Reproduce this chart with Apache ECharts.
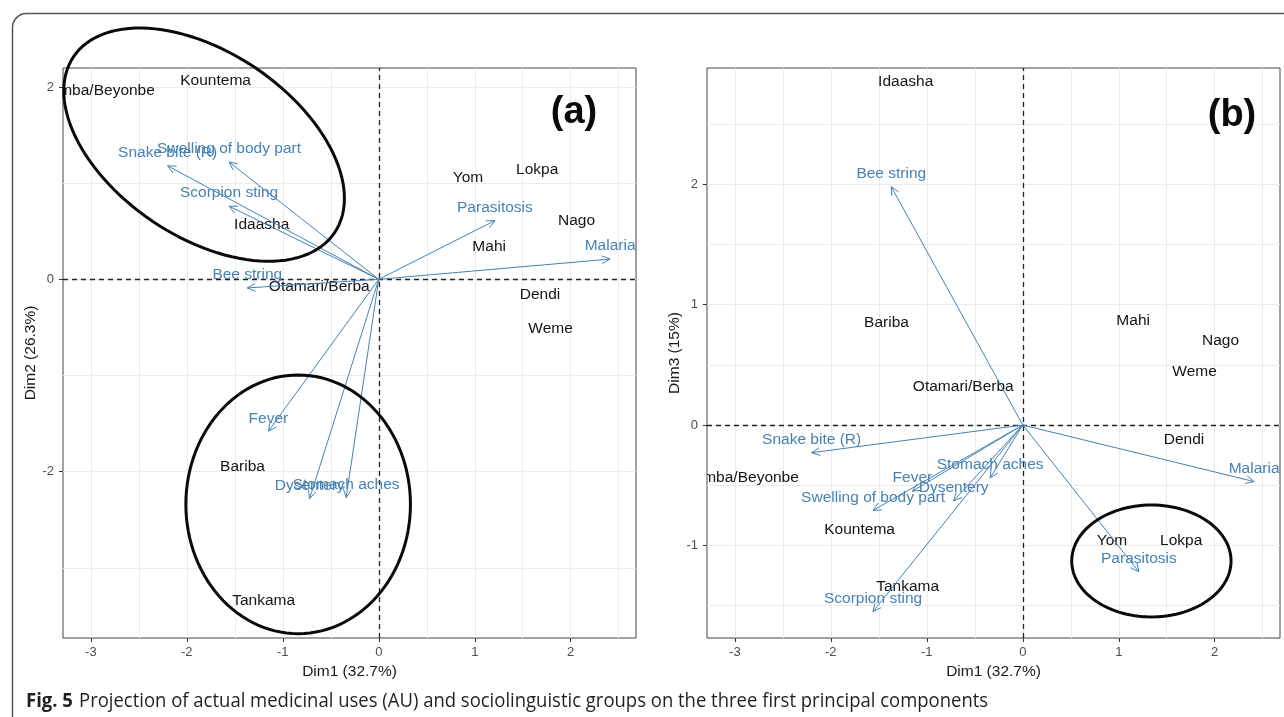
<!DOCTYPE html>
<html>
<head>
<meta charset="utf-8">
<script src="https://cdn.jsdelivr.net/npm/echarts@6/dist/echarts.min.js"></script>
<style>html,body{margin:0;padding:0;background:#fff}#c{width:1284px;height:717px}</style>
</head>
<body>
<div id="c"></div>
<script>
// ---- data ----
const groups = ['Somba/Beyonbe','Kountema','Idaasha','Otamari/Berba','Yom','Lokpa','Nago','Mahi','Dendi','Weme','Bariba','Tankama'];
const groupDim1 = [-2.93,-1.70,-1.22,-0.62,0.93,1.65,2.06,1.15,1.68,1.79,-1.42,-1.20];
const groupDim2 = [1.96,2.06,0.57,-0.08,1.06,1.14,0.61,0.34,-0.16,-0.51,-1.95,-3.34];
const groupDim3 = [-0.44,-0.87,2.85,0.32,-0.96,-0.96,0.70,0.87,-0.12,0.44,0.85,-1.34];

const uses = ['Snake bite (R)','Swelling of body part','Scorpion sting','Bee string','Parasitosis','Malaria','Fever','Dysentery','Stomach aches'];
const useDim1 = [-2.20,-1.56,-1.56,-1.37,1.21,2.41,-1.15,-0.72,-0.34];
const useDim2 = [1.18,1.22,0.76,-0.09,0.61,0.21,-1.58,-2.28,-2.27];
const useDim3 = [-0.23,-0.71,-1.55,1.98,-1.22,-0.47,-0.55,-0.63,-0.44];

// annotation ellipses: [centerX, centerY, radiusX, radiusY, rotationDeg]
const ellipsesA = [[-1.82, 1.40, 1.64, 0.96, 34], [-0.84, -2.34, 1.17, 1.345, 0]];
const ellipsesB = [[1.34, -1.13, 0.83, 0.465, 0]];

const xTickLabels = [-3, -2, -1, 0, 1, 2];
const xGrid = [-3, -2.5, -2, -1.5, -1, -0.5, 0, 0.5, 1, 1.5, 2, 2.5];
const yATickLabels = [-2, 0, 2];
const yAGrid = [-3, -2, -1, 0, 1, 2];
const yBTickLabels = [-1, 0, 1, 2];
const yBGrid = [-1.5, -1, -0.5, 0, 0.5, 1, 1.5, 2, 2.5];

const dimNames = ['Dim1 (32.7%)', 'Dim2 (26.3%)', 'Dim3 (15%)'];

// ---- styles ----
const FONT = 'Liberation Sans, Arial, sans-serif';
const BLUE = '#4682B4';
const INK = '#141414';
const XR = [-3.29, 2.68];
const YA = [-3.73, 2.197];
const YB = [-1.77, 2.967];

const chart = echarts.init(document.getElementById('c'), null, {renderer: 'canvas'});

function mainX(grid) {
  return {
    type: 'value', gridIndex: grid, min: XR[0], max: XR[1], position: 'bottom',
    name: dimNames[0], nameLocation: 'middle', nameGap: 24,
    nameTextStyle: {fontFamily: FONT, fontSize: 15.5, color: '#1a1a1a'},
    axisLine: {show: false, onZero: false},
    axisTick: {show: false, customValues: xGrid},
    splitLine: {show: true, lineStyle: {color: '#ebebeb', width: 1}},
    axisLabel: {customValues: xTickLabels, color: '#4d4d4d', fontSize: 13, fontFamily: FONT, margin: 8}
  };
}
function tickX(grid) {
  return {
    type: 'value', gridIndex: grid, min: XR[0], max: XR[1], position: 'bottom',
    axisLine: {show: false, onZero: false}, splitLine: {show: false}, axisLabel: {show: false},
    axisTick: {show: true, length: 4, customValues: xTickLabels, lineStyle: {color: '#333', width: 1}}
  };
}
function mainY(grid, range, gridVals, labels, name) {
  return {
    type: 'value', gridIndex: grid, min: range[0], max: range[1], position: 'left',
    name: name, nameLocation: 'middle', nameGap: 23,
    nameTextStyle: {fontFamily: FONT, fontSize: 15.5, color: '#1a1a1a'},
    axisLine: {show: false, onZero: false},
    axisTick: {show: false, customValues: gridVals},
    splitLine: {show: true, lineStyle: {color: '#ebebeb', width: 1}},
    axisLabel: {customValues: labels, color: '#4d4d4d', fontSize: 13, fontFamily: FONT, margin: 9}
  };
}
function tickY(grid, range, labels) {
  return {
    type: 'value', gridIndex: grid, min: range[0], max: range[1], position: 'left',
    axisLine: {show: false, onZero: false}, splitLine: {show: false}, axisLabel: {show: false},
    axisTick: {show: true, length: 4, customValues: labels, lineStyle: {color: '#333', width: 1}}
  };
}

function labelSeries(xi, yi, xs, ys) {
  return {
    type: 'custom', xAxisIndex: xi, yAxisIndex: yi, clip: true, z: 5,
    data: xs.map((x, i) => [x, ys[i]]),
    renderItem: function (params, api) {
      const p = api.coord([api.value(0), api.value(1)]);
      return {type: 'text', x: p[0], y: p[1],
        style: {text: groups[params.dataIndex], fill: INK, fontSize: 15.5, fontFamily: FONT, align: 'center', verticalAlign: 'middle'}};
    },
    markLine: {
      silent: true, symbol: 'none', label: {show: false},
      lineStyle: {color: '#222', type: [5, 4], width: 1.3},
      data: [{xAxis: 0}, {yAxis: 0}]
    }
  };
}

function arrowSeries(xi, yi, xs, ys) {
  return {
    type: 'custom', xAxisIndex: xi, yAxisIndex: yi, clip: true, z: 6,
    data: xs.map((x, i) => [x, ys[i]]),
    renderItem: function (params, api) {
      const o = api.coord([0, 0]);
      const p = api.coord([api.value(0), api.value(1)]);
      const ang = Math.atan2(p[1] - o[1], p[0] - o[0]);
      const L = 9, A = Math.PI / 7;
      const h1 = [p[0] - L * Math.cos(ang - A), p[1] - L * Math.sin(ang - A)];
      const h2 = [p[0] - L * Math.cos(ang + A), p[1] - L * Math.sin(ang + A)];
      return {type: 'group', children: [
        {type: 'line', shape: {x1: o[0], y1: o[1], x2: p[0], y2: p[1]}, style: {stroke: BLUE, lineWidth: 1}},
        {type: 'polyline', shape: {points: [h1, p, h2]}, style: {stroke: BLUE, lineWidth: 1, fill: null}},
        {type: 'text', x: p[0], y: p[1] - 13,
          style: {text: uses[params.dataIndex], fill: BLUE, fontSize: 15.5, fontFamily: FONT, align: 'center', verticalAlign: 'middle'}}
      ]};
    }
  };
}

function ellipseSeries(xi, yi, list) {
  return {
    type: 'custom', xAxisIndex: xi, yAxisIndex: yi, clip: false, z: 8,
    data: list,
    renderItem: function (params, api) {
      const c = api.coord([api.value(0), api.value(1)]);
      const s = api.size([api.value(2), api.value(3)]);
      const rot = api.value(4) * Math.PI / 180;
      const pts = [];
      for (let k = 0; k < 120; k++) {
        const t = k / 120 * 2 * Math.PI;
        const ex = s[0] * Math.cos(t), ey = s[1] * Math.sin(t);
        pts.push([c[0] + ex * Math.cos(rot) - ey * Math.sin(rot), c[1] + ex * Math.sin(rot) + ey * Math.cos(rot)]);
      }
      return {type: 'polygon', shape: {points: pts}, style: {stroke: '#0a0a0a', lineWidth: 3, fill: 'none'}};
    }
  };
}

const option = {
  backgroundColor: '#fff',
  animation: false,
  grid: [
    {left: 63, top: 68, width: 573, height: 570, show: true, borderColor: '#444', borderWidth: 1, backgroundColor: 'transparent'},
    {left: 707, top: 68, width: 573, height: 570, show: true, borderColor: '#444', borderWidth: 1, backgroundColor: 'transparent'}
  ],
  xAxis: [mainX(0), tickX(0), mainX(1), tickX(1)],
  yAxis: [
    mainY(0, YA, yAGrid, yATickLabels, dimNames[1]), tickY(0, YA, yATickLabels),
    mainY(1, YB, yBGrid, yBTickLabels, dimNames[2]), tickY(1, YB, yBTickLabels)
  ],
  series: [
    labelSeries(0, 0, groupDim1, groupDim2),
    arrowSeries(0, 0, useDim1, useDim2),
    ellipseSeries(0, 0, ellipsesA),
    labelSeries(2, 2, groupDim1, groupDim3),
    arrowSeries(2, 2, useDim1, useDim3),
    ellipseSeries(2, 2, ellipsesB)
  ],
  graphic: [
    {type: 'rect', left: 10, top: 11, shape: {width: 1320, height: 760, r: 14},
      style: {stroke: '#555', lineWidth: 1.5, fill: 'none'}, z: 0, silent: true},
    {type: 'text', x: 574, y: 113, z: 20,
      style: {text: '(a)', fill: '#0a0a0a', fontSize: 38, fontWeight: 'bold', fontFamily: FONT, align: 'center', verticalAlign: 'middle'}},
    {type: 'text', x: 1232, y: 116, z: 20,
      style: {text: '(b)', fill: '#0a0a0a', fontSize: 38, fontWeight: 'bold', fontFamily: FONT, align: 'center', verticalAlign: 'middle'}},
    {type: 'text', x: 26, y: 701, z: 20, scaleX: 0.924,
      style: {
        text: '{b|Fig. 5}  {r|Projection of actual medicinal uses (AU) and sociolinguistic groups on the three first principal components}',
        verticalAlign: 'middle', align: 'left',
        rich: {
          b: {fontFamily: 'Open Sans, sans-serif', fontWeight: 'bold', fontSize: 20, fill: '#231f20'},
          r: {fontFamily: 'Open Sans, sans-serif', fontSize: 20, fill: '#231f20'}
        }
      }}
  ]
};
chart.setOption(option);
</script>
</body>
</html>
